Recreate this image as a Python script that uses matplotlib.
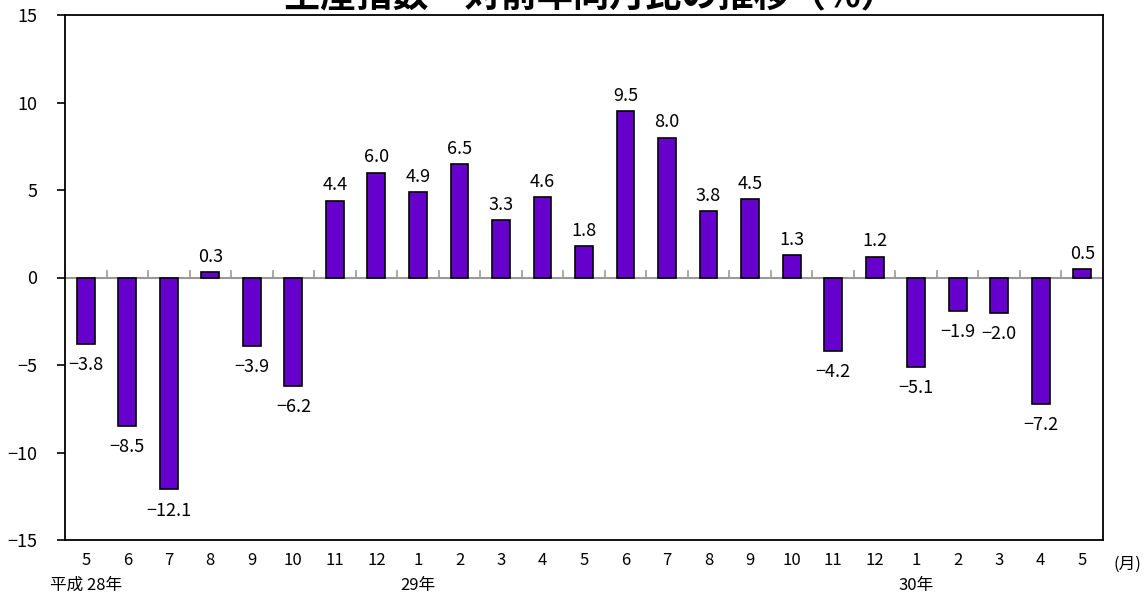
import matplotlib

matplotlib.use("Agg")
import matplotlib.pyplot as plt

plt.rcParams["font.family"] = ["Noto Sans CJK JP", "DejaVu Sans"]

months = ["5", "6", "7", "8", "9", "10", "11", "12", "1", "2", "3", "4", "5",
          "6", "7", "8", "9", "10", "11", "12", "1", "2", "3", "4", "5"]
values = [-3.8, -8.5, -12.1, 0.3, -3.9, -6.2, 4.4, 6.0, 4.9, 6.5, 3.3, 4.6, 1.8,
          9.5, 8.0, 3.8, 4.5, 1.3, -4.2, 1.2, -5.1, -1.9, -2.0, -7.2, 0.5]
year_labels = {0: "平成 28年", 8: "29年", 20: "30年"}
title = "生産指数　対前年同月比の推移（%）"

W, H = 1147, 594
fig = plt.figure(figsize=(W / 100, H / 100), dpi=100)
ax = fig.add_axes([65 / W, 54 / H, 1038 / W, 525 / H])

x = list(range(len(values)))
ax.bar(x, values, width=0.43, color="#6600cc", edgecolor="black", linewidth=1.2, zorder=3)
ax.axhline(0, color="#999999", linewidth=1.5, zorder=2)
# small tick marks between categories on the zero line
for b in range(len(values) + 1):
    ax.plot([b - 0.5, b - 0.5], [0, 0.35], color="#999999", linewidth=1.2, zorder=2)

for xi, v in zip(x, values):
    label = f"{v:.1f}".replace("-", "\u2212")
    if v >= 0:
        ax.text(xi, v + 0.35, label, ha="center", va="bottom", fontsize=13)
    else:
        ax.text(xi, v - 0.7, label, ha="center", va="top", fontsize=13)

ax.set_xlim(-0.5, len(values) - 0.5)
ax.set_ylim(-15, 15)
ticks = [-15, -10, -5, 0, 5, 10, 15]
ax.set_yticks(ticks)
ax.set_yticklabels([str(t).replace("-", "\u2212") for t in ticks], fontsize=13)
ax.tick_params(axis="y", direction="out", length=6, width=1.2, pad=14)
ax.set_xticks([])
for s in ax.spines.values():
    s.set_linewidth(1.3)

# month labels under the plot
for xi, m in zip(x, months):
    ax.text(xi, -0.022, m, transform=ax.get_xaxis_transform(), ha="center", va="top", fontsize=12)
for xi, yl in year_labels.items():
    ax.text(xi, -0.07, yl, transform=ax.get_xaxis_transform(), ha="center", va="top", fontsize=12)
ax.text(1.01, -0.03, "(月)", transform=ax.transAxes, ha="left", va="top", fontsize=12)

fig.text(0.515, (H - 14) / H, title, ha="center", va="bottom", fontsize=26, fontweight="bold")

fig.savefig("out.png", dpi=100)
